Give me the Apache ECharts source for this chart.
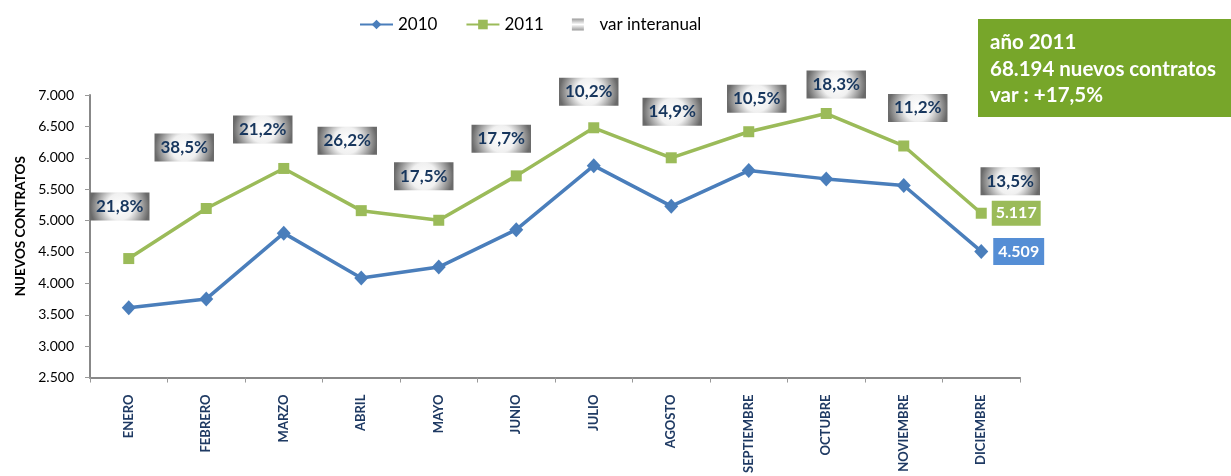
<!DOCTYPE html>
<html>
<head>
<meta charset="utf-8">
<script src="https://cdn.jsdelivr.net/npm/echarts@6/dist/echarts.min.js"></script>
<style>
  html, body { margin: 0; padding: 0; background: #fff; }
  #main { width: 1231px; height: 476px; }
</style>
</head>
<body>
<div id="main"></div>
<script>
var meses = ["ENERO", "FEBRERO", "MARZO", "ABRIL", "MAYO", "JUNIO", "JULIO", "AGOSTO", "SEPTIEMBRE", "OCTUBRE", "NOVIEMBRE", "DICIEMBRE"];
var datos2010 = [3610, 3752, 4800, 4085, 4259, 4855, 5875, 5230, 5796, 5664, 5558, 4509];
var datos2011 = [4395, 5192, 5830, 5158, 5005, 5712, 6478, 6000, 6415, 6705, 6188, 5117];
var varInteranual = ["21,8%", "38,5%", "21,2%", "26,2%", "17,5%", "17,7%", "10,2%", "14,9%", "10,5%", "18,3%", "11,2%", "13,5%"];
var resumen = ["año 2011", "68.194 nuevos contratos", "var : +17,5%"];

// desplazamiento de cada etiqueta de variacion respecto al punto de 2011 (px)
var offsetsVar = [[-9, -52], [-22, -61], [-21, -39], [-14, -70], [-15, -44], [-15, -37], [-5, -36], [1, -46], [8, -33], [10, -29], [14, -38], [29, -32]];

var azul = "#4a7ebb";
var verde = "#9bbb59";
var fuente = "Lato";

function miles(v){
    return String(v).replace(/\B(?=(\d{3})+(?!\d))/g, ".");
}

var gradienteCaja = new echarts.graphic.RadialGradient(0.5, 0.5, 1.05, [
    {offset: 0, color: "#ffffff"},
    {offset: 0.45, color: "#f0f0f0"},
    {offset: 1, color: "#6a6a6a"}
]);
var gradienteLeyenda = new echarts.graphic.LinearGradient(0, 0, 0, 1, [
    {offset: 0, color: "#9a9a9a"},
    {offset: 0.5, color: "#ffffff"},
    {offset: 1, color: "#9a9a9a"}
]);

// etiqueta final solo en diciembre
function serieConFinal(valores, colorCaja, padding){
    var out = [];
    for(var i = 0; i < valores.length; i++){
        if(i == valores.length - 1){
            out.push({
                value: valores[i],
                label: {
                    show: true,
                    position: "right",
                    distance: 5,
                    formatter: miles(valores[i]),
                    backgroundColor: colorCaja,
                    color: "#fff",
                    fontFamily: fuente,
                    fontWeight: "bold",
                    fontSize: 16,
                    lineHeight: 19,
                    padding: padding
                }
            });
        }else{
            out.push(valores[i]);
        }
    }
    return out;
}

var datosVar = [];
for(var i = 0; i < datos2011.length; i++){
    datosVar.push({
        value: [i, datos2011[i]],
        label: {offset: offsetsVar[i]}
    });
}

var myChart = echarts.init(document.getElementById("main"));
myChart.setOption({
    animation: false,
    textStyle: {fontFamily: fuente},
    legend: {
        top: 11,
        left: 354,
        itemWidth: 33,
        itemHeight: 12,
        itemGap: 28,
        textStyle: {fontSize: 17, color: "#000", fontFamily: fuente},
        data: [
            {name: "2010"},
            {name: "2011"},
            {name: "var interanual", icon: "path://M0,0L10,0L10,10L0,10Z", itemStyle: {color: gradienteLeyenda, opacity: 1}}
        ]
    },
    grid: {left: 90, right: 211, top: 95, bottom: 97},
    xAxis: {
        type: "category",
        data: meses,
        boundaryGap: true,
        axisLine: {lineStyle: {color: "#888", width: 2}},
        axisTick: {show: true, length: 5, lineStyle: {color: "#999"}},
        axisLabel: {
            rotate: 90,
            interval: 0,
            margin: 17,
            fontSize: 13,
            fontWeight: "bold",
            color: "#1f3a63",
            fontFamily: fuente
        }
    },
    yAxis: {
        type: "value",
        min: 2500,
        max: 7000,
        interval: 500,
        name: "NUEVOS CONTRATOS",
        nameLocation: "middle",
        nameRotate: 90,
        nameGap: 62,
        nameTextStyle: {fontSize: 13.5, fontWeight: "bold", color: "#000", padding: [0, 0, 0, 20]},
        axisLine: {show: true, lineStyle: {color: "#888", width: 2}},
        axisTick: {show: true, length: 5, lineStyle: {color: "#999"}},
        splitLine: {show: false},
        axisLabel: {
            margin: 16,
            fontSize: 14,
            color: "#000",
            formatter: function(v){ return miles(v); }
        }
    },
    series: [
        {
            name: "2010",
            type: "line",
            data: serieConFinal(datos2010, "#558ed5", [4, 5, 4, 5]),
            color: azul,
            symbol: "diamond",
            symbolSize: [14, 15],
            lineStyle: {width: 3.5, color: azul},
            itemStyle: {color: azul}
        },
        {
            name: "2011",
            type: "line",
            data: serieConFinal(datos2011, verde, [3, 4, 3, 4]),
            color: verde,
            symbol: "rect",
            symbolSize: 11,
            lineStyle: {width: 3.5, color: verde},
            itemStyle: {color: verde}
        },
        {
            name: "var interanual",
            type: "scatter",
            data: datosVar,
            symbolSize: 1,
            itemStyle: {color: "rgba(0,0,0,0)", opacity: 1},
            z: 5,
            label: {
                show: true,
                position: "inside",
                formatter: function(p){ return varInteranual[p.dataIndex]; },
                backgroundColor: gradienteCaja,
                color: "#17365d",
                opacity: 1,
                textBorderWidth: 0,
                fontFamily: fuente,
                fontWeight: "bold",
                fontSize: 17,
                lineHeight: 20,
                padding: [4, 6, 4, 6]
            }
        }
    ],
    graphic: [
        {
            type: "rect",
            left: 978,
            top: 19,
            shape: {width: 253, height: 98},
            style: {fill: "#77a62a"}
        },
        {type: "text", left: 990, top: 32, style: {text: resumen[0], fill: "#fff", font: "bold 20.5px Lato"}},
        {type: "text", left: 990, top: 59, style: {text: resumen[1], fill: "#fff", font: "bold 20.5px Lato"}},
        {type: "text", left: 990, top: 85, style: {text: resumen[2], fill: "#fff", font: "bold 20.5px Lato"}}
    ]
});
</script>
</body>
</html>
